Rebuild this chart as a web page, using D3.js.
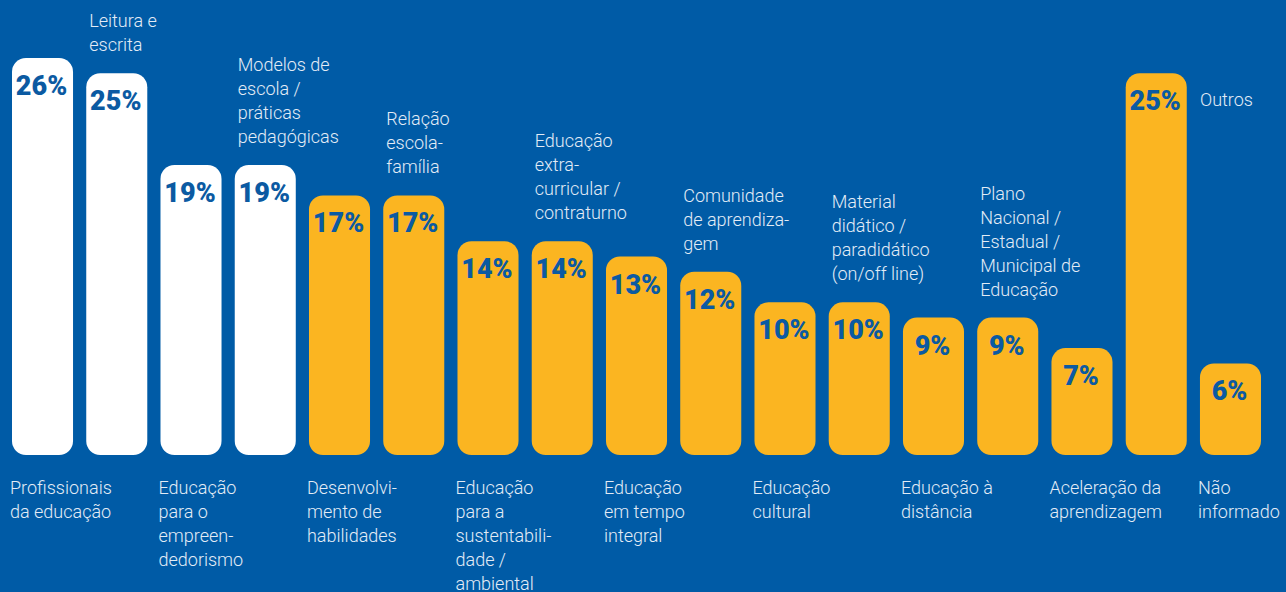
<!DOCTYPE html>
<html>
<head>
<meta charset="utf-8">
<script src="https://cdn.jsdelivr.net/npm/d3@7"></script>
<style>
  html, body { margin: 0; padding: 0; background: #005ba6; }
  svg { display: block; }
  .pct { font-family: "Roboto", sans-serif; font-weight: 900; }
  .lbl { font-family: "Roboto", sans-serif; font-weight: 300; }
</style>
</head>
<body>
<script>
var width = 1286, height = 592;

// dados
var categories = [
  "Profissionais da educação", "Leitura e escrita", "Educação para o empreendedorismo",
  "Modelos de escola / práticas pedagógicas", "Desenvolvimento de habilidades",
  "Relação escola-família", "Educação para a sustentabilidade / ambiental",
  "Educação extra-curricular / contraturno", "Educação em tempo integral",
  "Comunidade de aprendizagem", "Educação cultural",
  "Material didático / paradidático (on/off line)", "Educação à distância",
  "Plano Nacional / Estadual / Municipal de Educação", "Aceleração da aprendizagem",
  "Outros", "Não informado"
];
var values = [26, 25, 19, 19, 17, 17, 14, 14, 13, 12, 10, 10, 9, 9, 7, 25, 6];
var labelLines = [
  ["Profissionais", "da educação"],
  ["Leitura e", "escrita"],
  ["Educação", "para o", "empreen-", "dedorismo"],
  ["Modelos de", "escola /", "práticas", "pedagógicas"],
  ["Desenvolvi-", "mento de", "habilidades"],
  ["Relação", "escola-", "família"],
  ["Educação", "para a", "sustentabili-", "dade /", "ambiental"],
  ["Educação", "extra-", "curricular /", "contraturno"],
  ["Educação", "em tempo", "integral"],
  ["Comunidade", "de aprendiza-", "gem"],
  ["Educação", "cultural"],
  ["Material", "didático /", "paradidático", "(on/off line)"],
  ["Educação à", "distância"],
  ["Plano", "Nacional /", "Estadual /", "Municipal de", "Educação"],
  ["Aceleração da", "aprendizagem"],
  ["Outros"],
  ["Não", "informado"]
];
// posição do rótulo: abaixo, acima, ou ao lado
var labelPos = ["below", "above", "below", "above", "below", "above", "below", "above",
  "below", "above", "below", "above", "below", "above", "below", "side", "below"];
var nWhite = 4;

var svg = d3.select("body").append("svg")
  .attr("width", width)
  .attr("height", height);

svg.append("rect").attr("width", width).attr("height", height).attr("fill", "#005ba6");

var x = d3.scaleBand()
  .domain(d3.range(categories.length))
  .range([12, 1261])
  .paddingInner(0.178)
  .paddingOuter(0);

var y = d3.scaleLinear()
  .domain([0, 26])
  .range([455, 58]);

var lineH = 24;

var bar = svg.selectAll(".bar")
  .data(values)
  .enter()
  .append("g")
  .attr("class", "bar");

bar.append("rect")
  .attr("x", function(d, i){ return x(i); })
  .attr("y", function(d){ return y(d); })
  .attr("width", x.bandwidth())
  .attr("height", function(d){ return y(0) - y(d); })
  .attr("rx", 14)
  .attr("ry", 14)
  .attr("fill", function(d, i){ return i < nWhite ? "#ffffff" : "#fbb521"; });

bar.append("text")
  .attr("class", "pct")
  .attr("text-anchor", "middle")
  .attr("x", function(d, i){ return x(i) + x.bandwidth() / 2 - 1; })
  .attr("y", function(d){ return y(d) + 37; })
  .attr("fill", "#0b5aa2")
  .attr("font-size", 27)
  .text(function(d){ return d + "%"; });

var lbl = svg.selectAll(".lblg")
  .data(labelLines)
  .enter()
  .append("text")
  .attr("class", "lbl")
  .attr("fill", "#e3ecf6")
  .attr("font-size", 18)
  .each(function(lines, i){
    var t = d3.select(this);
    var x0, y0;
    if (labelPos[i] === "below") {
      x0 = x(i) - 2;
      y0 = 494;
    } else if (labelPos[i] === "above") {
      x0 = x(i) + 3;
      y0 = y(values[i]) - 22 - (lines.length - 1) * lineH;
    } else {
      x0 = x(i + 1);
      y0 = y(values[i]) + 33;
    }
    lines.forEach(function(s, k){
      t.append("tspan")
        .attr("x", x0)
        .attr("y", y0 + k * lineH)
        .text(s);
    });
  });
</script>
</body>
</html>
